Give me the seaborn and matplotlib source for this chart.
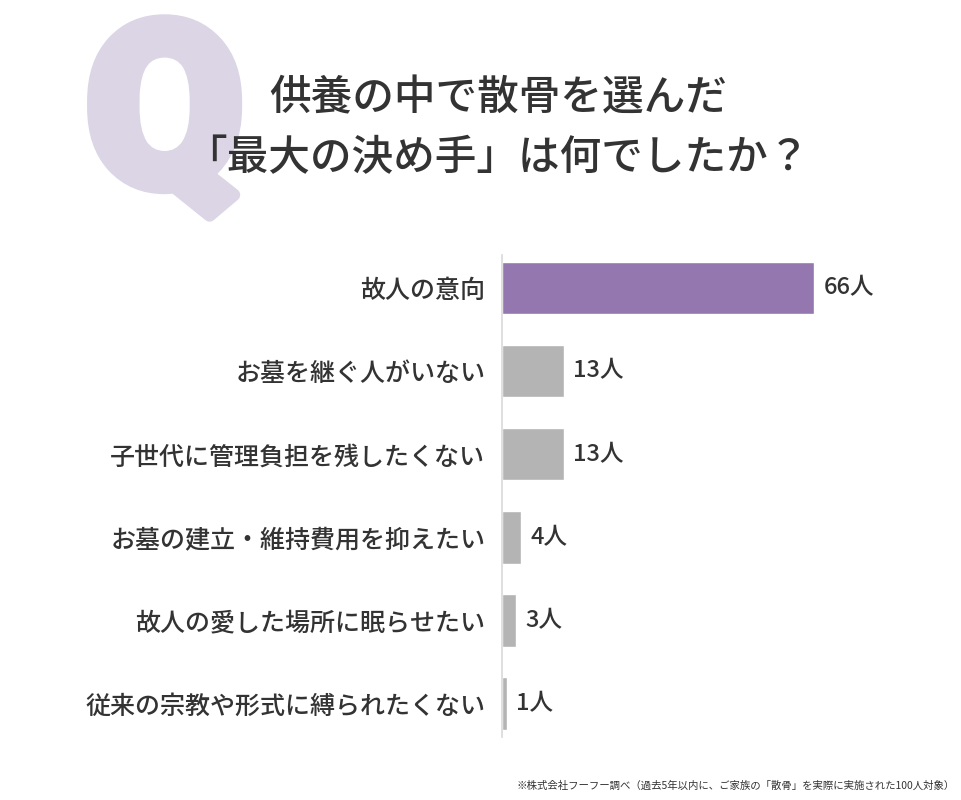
import matplotlib
matplotlib.use("Agg")
import matplotlib.pyplot as plt
import matplotlib.patheffects as pe
import seaborn as sns
import pandas as pd

# --- Data ---
reasons = [
    "故人の意向",
    "お墓を継ぐ人がいない",
    "子世代に管理負担を残したくない",
    "お墓の建立・維持費用を抑えたい",
    "故人の愛した場所に眠らせたい",
    "従来の宗教や形式に縛られたくない",
]
counts = [66, 13, 13, 4, 3, 1]
bar_colors = ["#9377ae", "#b4b4b4", "#b4b4b4", "#b4b4b4", "#b4b4b4", "#b4b4b4"]

title_lines = ["供養の中で散骨を選んだ", "「最大の決め手」は何でしたか？"]
note = "※株式会社フーフー調べ（過去5年以内に、ご家族の「散骨」を実際に実施された100人対象）"

sns.set_theme(style="white")
plt.rcParams["font.family"] = ["Noto Sans CJK JP", "DejaVu Sans"]

df = pd.DataFrame({"reason": reasons, "count": counts})

fig = plt.figure(figsize=(9.61, 8.0), dpi=100)
fig.patch.set_facecolor("white")

# big heavy "Q" watermark behind the title
q_color = "#dcd5e5"
fig.text(0.171, 0.846, "Q", fontsize=165, fontweight="black", color=q_color,
         ha="center", va="center", family=["Roboto", "DejaVu Sans"],
         path_effects=[pe.withStroke(linewidth=9, foreground=q_color)])

fig.text(0.518, 0.877, title_lines[0], fontsize=30, fontweight="medium",
         color="#333333", ha="center", va="center")
fig.text(0.518, 0.803, title_lines[1], fontsize=30, fontweight="medium",
         color="#333333", ha="center", va="center")

ax = fig.add_axes([0.5224, 0.079, 0.40, 0.6025])
sns.barplot(data=df, x="count", y="reason", hue="reason", palette=bar_colors,
            legend=False, orient="h", width=0.63, ax=ax, saturation=1)

ax.set_xlim(0, 81.2)
ax.set_ylim(5.4, -0.4)
ax.set_xlabel("")
ax.set_ylabel("")
ax.set_xticks([])
ax.tick_params(axis="y", length=0, pad=12, labelsize=18, labelcolor="#333333")
for lab in ax.get_yticklabels():
    lab.set_fontweight("medium")
for side in ["top", "right", "bottom"]:
    ax.spines[side].set_visible(False)
ax.spines["left"].set_color("#d9d9d9")
ax.spines["left"].set_linewidth(1.2)
ax.patch.set_alpha(0)

for i, v in enumerate(counts):
    ax.text(v + 2.0, i, f"{v}人", va="center", ha="left", fontsize=17,
            fontweight="medium", color="#333333")

fig.text(0.994, 0.018, note, fontsize=7.5, color="#333333", ha="right", va="center")

fig.savefig("out.png", dpi=100, facecolor="white")
